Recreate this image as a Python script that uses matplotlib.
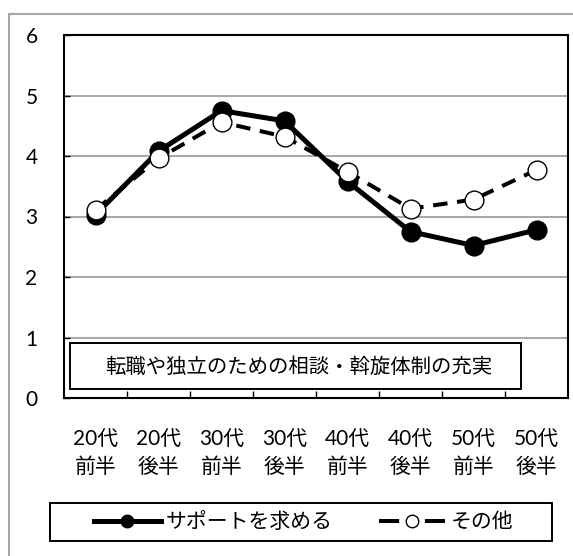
#!/usr/bin/env python3

import matplotlib
matplotlib.use('Agg')

import matplotlib.pyplot as plt
from matplotlib.patches import Rectangle
from matplotlib.lines import Line2D

plt.rcParams['font.family'] = ['Lato', 'Noto Sans CJK JP', 'DejaVu Sans']

age_labels = ['20代\n前半', '20代\n後半', '30代\n前半', '30代\n後半',
              '40代\n前半', '40代\n後半', '50代\n前半', '50代\n後半']
support = [3.03, 4.08, 4.75, 4.58, 3.58, 2.75, 2.52, 2.78]
other = [3.11, 3.96, 4.56, 4.32, 3.74, 3.13, 3.28, 3.77]
yticks = [0, 1, 2, 3, 4, 5, 6]
series_names = ['サポートを求める', 'その他']
title_text = '転職や独立のための相談・斡旋体制の充実'

fig = plt.figure(figsize=(5.73, 5.56), dpi=100)
ax = fig.add_axes([64 / 573, 158 / 556, 504 / 573, 363 / 556])

xs = list(range(len(age_labels)))

ax.plot(xs, support, color='black', linewidth=3.6, marker='o',
        markersize=13.5, markerfacecolor='black', markeredgecolor='black',
        zorder=3)
ax.plot(xs, other, color='black', linewidth=2.9, linestyle=(0, (3.6, 2.4)),
        marker='o', markersize=13.5, markerfacecolor='white',
        markeredgecolor='black', markeredgewidth=1.0, zorder=4)

ax.set_xlim(-0.5, len(age_labels) - 0.5)
ax.set_ylim(0, 6)

ax.set_xticks(xs)
ax.set_xticklabels(age_labels, fontsize=15, linespacing=1.5)
ax.set_xticks([i + 0.5 for i in xs[:-1]], minor=True)
ax.tick_params(axis='x', which='major', length=0, pad=22)
ax.tick_params(axis='x', which='minor', direction='in', length=5,
               width=1, color='black')

ax.set_yticks(yticks)
ax.set_yticklabels([str(v) for v in yticks], fontsize=15)
ax.tick_params(axis='y', direction='in', length=4, width=1, pad=19,
               color='black')

for v in yticks[1:-1]:
    ax.axhline(v, color='#a0a0a0', linewidth=1.3, zorder=1)

for spine in ax.spines.values():
    spine.set_linewidth(1.5)
    spine.set_color('black')

# caption box inside the plot
ax.add_patch(Rectangle((0.012, 0.025), 0.895, 0.127, transform=ax.transAxes,
                       facecolor='white', edgecolor='black', linewidth=1.4,
                       zorder=5))
ax.text(0.466, 0.088, title_text, transform=ax.transAxes, fontsize=14.7,
        ha='center', va='center', zorder=6)

# legend with its own frame
handles = [
    Line2D([], [], color='black', linewidth=3.6, marker='o', markersize=9,
           markerfacecolor='black'),
    Line2D([], [], color='black', linewidth=2.9, linestyle=(0, (5.0, 6.4)),
           marker='o', markersize=9, markerfacecolor='white',
           markeredgewidth=1.0),
]
fig.legend(handles, series_names, loc='center', ncol=2,
           bbox_to_anchor=(303.5 / 573, 1 - 522 / 556), frameon=False,
           fontsize=15, handlelength=3.2, handletextpad=0.25,
           columnspacing=2.2)
fig.add_artist(Rectangle((50 / 573, 1 - 541 / 556), 502 / 573, 38 / 556,
                         transform=fig.transFigure, fill=False,
                         edgecolor='black', linewidth=1.4))

# outer chart border
fig.add_artist(Rectangle((9 / 573, -0.02), 1.0, 1.0074 - 7 / 556,
                         transform=fig.transFigure, fill=False,
                         edgecolor='#a6a6a6', linewidth=1.5, clip_on=False))

fig.savefig('out.png', dpi=100)
plt.close(fig)
